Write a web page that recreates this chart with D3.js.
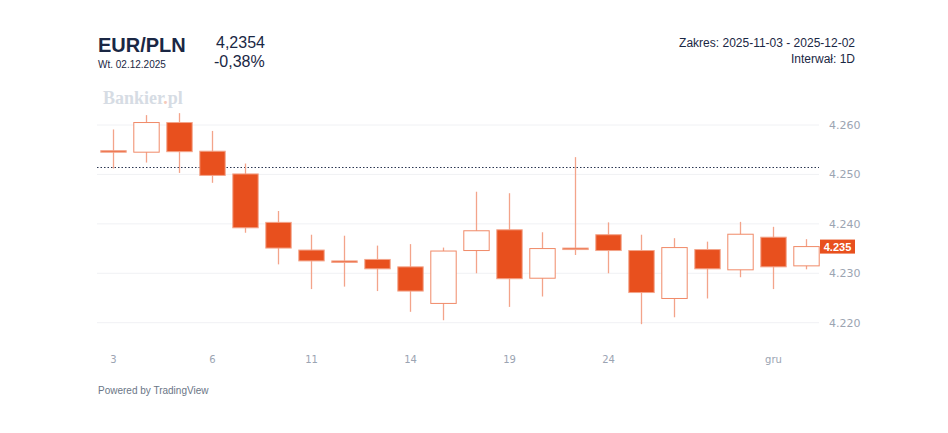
<!DOCTYPE html>
<html>
<head>
<meta charset="utf-8">
<script src="https://cdn.jsdelivr.net/npm/d3@7"></script>
<style>
  body { margin: 0; background: #fff; font-family: "Liberation Sans", Arial, sans-serif; }
</style>
</head>
<body>
<div id="chart"></div>
<script>
// EUR/PLN daily candles, 2025-11-03 .. 2025-12-02
let days = ["3", "4", "5", "6", "7", "10", "11", "12", "13", "14", "17", "18", "19", "20", "21", "24", "25", "26", "27", "28", "1", "2"];
let open  = [4.2548, 4.2545, 4.2605, 4.2547, 4.2501, 4.2403, 4.2347, 4.2325, 4.2328, 4.2313, 4.2239, 4.2346, 4.2388, 4.2290, 4.2351, 4.2378, 4.2346, 4.2249, 4.2348, 4.2307, 4.2373, 4.2315];
let high  = [4.2591, 4.2620, 4.2624, 4.2588, 4.2522, 4.2426, 4.2378, 4.2376, 4.2356, 4.2359, 4.2352, 4.2465, 4.2462, 4.2383, 4.2535, 4.2403, 4.2378, 4.2371, 4.2364, 4.2404, 4.2394, 4.2369];
let low   = [4.2512, 4.2524, 4.2503, 4.2483, 4.2382, 4.2318, 4.2268, 4.2273, 4.2264, 4.2222, 4.2205, 4.2300, 4.2232, 4.2253, 4.2337, 4.2300, 4.2197, 4.2211, 4.2249, 4.2292, 4.2268, 4.2308];
let close = [4.2545, 4.2605, 4.2546, 4.2498, 4.2392, 4.2351, 4.2325, 4.2323, 4.2309, 4.2264, 4.2345, 4.2386, 4.2289, 4.2350, 4.2349, 4.2346, 4.2261, 4.2352, 4.2309, 4.2379, 4.2313, 4.2354];
let xTickLabels = {"3": "3", "6": "6", "11": "11", "14": "14", "19": "19", "24": "24", "1": "gru"};
let yTicks = [4.220, 4.230, 4.240, 4.250, 4.260];
let prevClose = 4.2514;
let lastPrice = 4.2354;

let width = 948, height = 433;
let orange = "#e8501e";
let wickColor = "#f3a48a";
let navy = "#1a2744";

let data = days.map((d, i) => ({ key: i, day: d, o: open[i], h: high[i], l: low[i], c: close[i] }));

let x = d3.scaleBand()
  .domain(data.map(d => d.key))
  .range([97, 823])
  .paddingInner(0.2)
  .paddingOuter(0.1);

let y = d3.scaleLinear()
  .domain([4.220, 4.260])
  .range([322.7, 125]);

const svg = d3.select("#chart").append("svg")
  .attr("width", width)
  .attr("height", height);

// header
svg.append("text").attr("x", 98).attr("y", 52)
  .attr("font-size", "20px").attr("font-weight", "bold").attr("fill", navy)
  .text("EUR/PLN");
svg.append("text").attr("x", 98).attr("y", 68)
  .attr("font-size", "10px").attr("fill", navy)
  .text("Wt. 02.12.2025");
svg.append("text").attr("x", 216).attr("y", 48)
  .attr("font-size", "16px").attr("fill", navy)
  .text("4,2354");
svg.append("text").attr("x", 214).attr("y", 67)
  .attr("font-size", "16px").attr("fill", navy)
  .text("-0,38%");
svg.append("text").attr("x", 855).attr("y", 47)
  .attr("font-size", "12px").attr("fill", navy).attr("text-anchor", "end")
  .text("Zakres: 2025-11-03 - 2025-12-02");
svg.append("text").attr("x", 855).attr("y", 63)
  .attr("font-size", "12px").attr("fill", navy).attr("text-anchor", "end")
  .text("Interwał: 1D");

// watermark
let wm = svg.append("text").attr("x", 103).attr("y", 104)
  .attr("font-family", "'Liberation Serif', 'DejaVu Serif', serif")
  .attr("font-size", "18px").attr("font-weight", "bold").attr("fill", "#d6dce4");
wm.append("tspan").text("Bankier");
wm.append("tspan").attr("fill", "#f6c9b8").text(".");
wm.append("tspan").text("pl");

// grid
svg.append("g")
  .selectAll("line")
  .data(yTicks)
  .join("line")
    .attr("x1", 97).attr("x2", 819)
    .attr("y1", d => y(d)).attr("y2", d => y(d))
    .attr("stroke", "#f0f1f4").attr("stroke-width", 1);

// y axis
let yAxis = g => g
  .attr("transform", "translate(822,0)")
  .call(d3.axisRight(y).tickValues(yTicks).tickFormat(d3.format(".3f")).tickSize(0).tickPadding(7))
  .call(g => g.select(".domain").remove())
  .call(g => g.selectAll("text").attr("fill", "#9ba4b2").attr("font-size", "11px")
    .attr("font-family", "'DejaVu Sans', sans-serif"));
svg.append("g").call(yAxis);

// x axis
let xAxis = g => g
  .attr("transform", "translate(0,356)")
  .call(d3.axisBottom(x).tickValues(data.filter(d => xTickLabels[d.day] && (d.key < 20 ? d.day !== "1" : true)).map(d => d.key))
    .tickFormat(k => xTickLabels[days[k]]).tickSize(0).tickPadding(0))
  .call(g => g.select(".domain").remove())
  .call(g => g.selectAll("text").attr("fill", "#9ba4b2").attr("font-size", "10px")
    .attr("font-family", "'DejaVu Sans', sans-serif"));
svg.append("g").call(xAxis);

// previous close dotted line
svg.append("line")
  .attr("x1", 97).attr("x2", 819)
  .attr("y1", y(prevClose)).attr("y2", y(prevClose))
  .attr("stroke", "#2a3550").attr("stroke-width", 1).attr("stroke-dasharray", "1.5,2");

// candles
let candles = svg.append("g")
  .selectAll("g")
  .data(data)
  .join("g");

candles.append("line")
  .attr("x1", d => x(d.key) + x.bandwidth() / 2)
  .attr("x2", d => x(d.key) + x.bandwidth() / 2)
  .attr("y1", d => y(d.h)).attr("y2", d => y(d.l))
  .attr("stroke", wickColor).attr("stroke-width", 1.3);

candles.append("rect")
  .attr("x", d => x(d.key) + 0.5)
  .attr("width", x.bandwidth() - 1)
  .attr("y", d => y(Math.max(d.o, d.c)))
  .attr("height", d => Math.max(1.5, Math.abs(y(d.o) - y(d.c))))
  .attr("fill", d => d.c >= d.o ? "#fff" : orange)
  .attr("stroke", d => d.c >= d.o ? "#f08a68" : "#f3a48a")
  .attr("stroke-width", 1);

// last price label
svg.append("rect")
  .attr("x", 820).attr("y", y(lastPrice) - 7)
  .attr("width", 35).attr("height", 14)
  .attr("fill", orange);
svg.append("text")
  .attr("x", 837.5).attr("y", y(lastPrice) + 4)
  .attr("text-anchor", "middle").attr("font-size", "11px").attr("font-weight", "bold")
  .attr("font-family", "'Liberation Sans', Arial, sans-serif")
  .attr("fill", "#fff")
  .text(d3.format(".3f")(lastPrice));

// footer
svg.append("text").attr("x", 98).attr("y", 394)
  .attr("font-size", "10px").attr("fill", "#6b7686")
  .text("Powered by TradingView");
</script>
</body>
</html>
